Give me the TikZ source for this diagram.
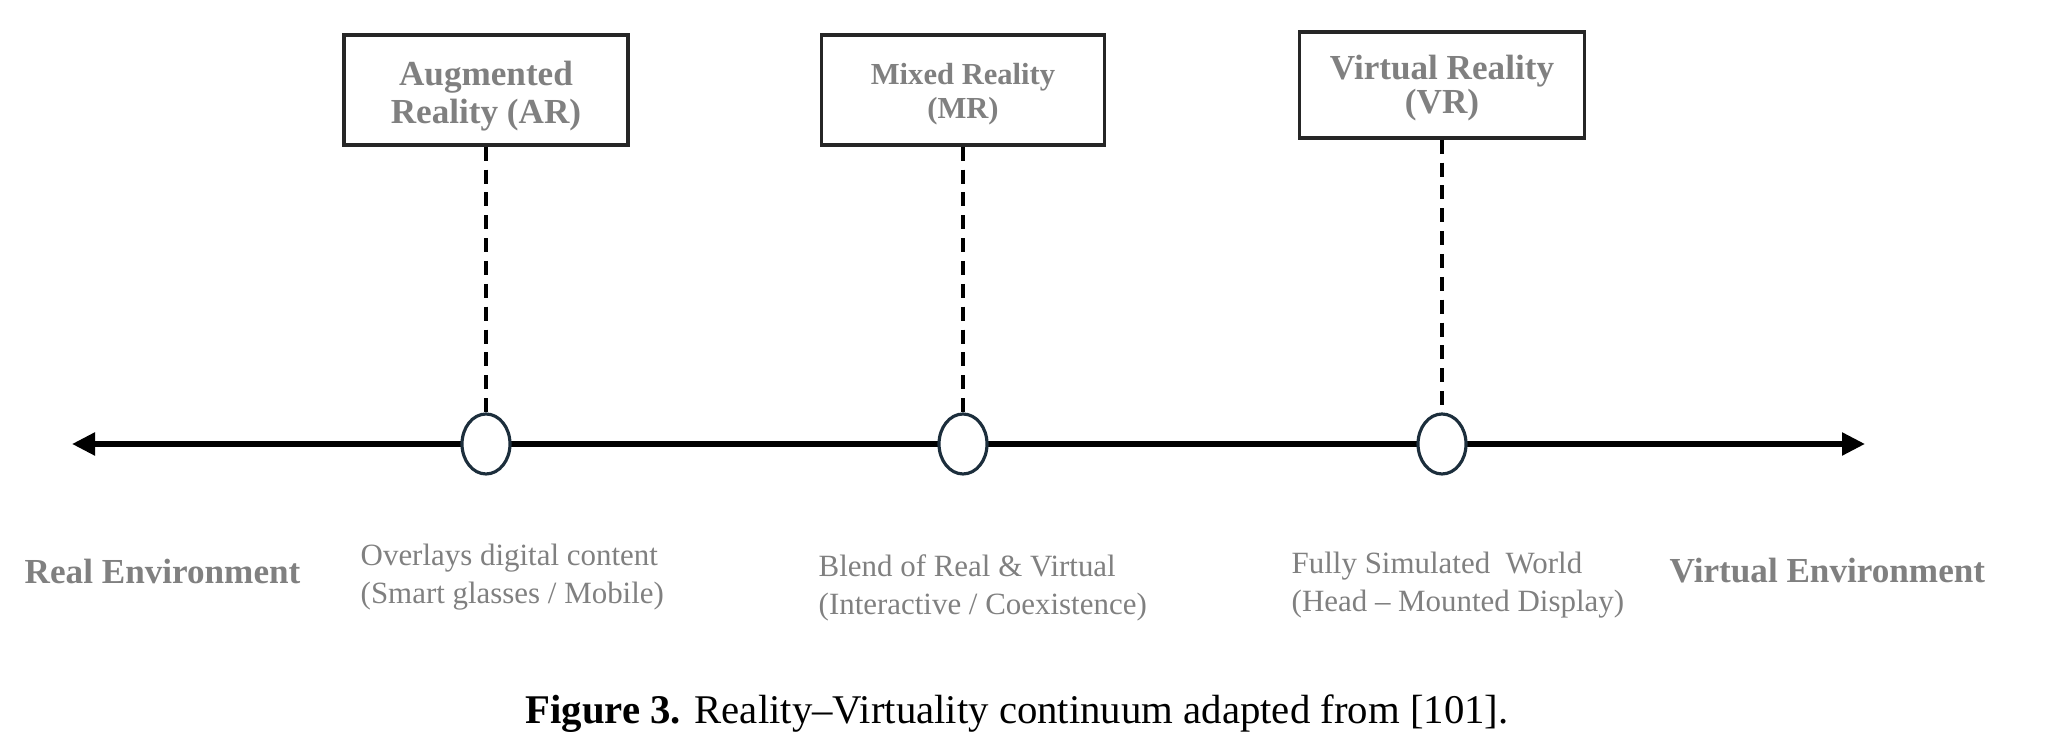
\documentclass[tikz,border=0pt]{standalone}
\usepackage{fontspec}
\setmainfont{Liberation Serif}
\usetikzlibrary{arrows.meta,positioning,shapes.geometric}
\definecolor{txtgray}{RGB}{128,128,128}
\definecolor{ringblue}{RGB}{28,46,60}
\tikzset{>={Triangle[length=2.3mm,width=2.2mm]}}
\tikzset{
  stagebox/.style={draw=black!85, line width=1pt, fill=white, inner sep=0pt},
  boxtext/.style={inner sep=0pt, align=center, text=txtgray,
    font=\bfseries\fontsize{10}{10.5}\selectfont},
  ring/.style={ellipse, draw=ringblue, line width=0.9pt, fill=white,
    minimum width=0.48cm, minimum height=0.6cm, inner sep=0pt},
  guide/.style={line width=0.9pt, dash pattern=on 4pt off 2.5pt},
  desc/.style={anchor=west, align=left, inner sep=0pt, text=txtgray,
    font=\fontsize{8.8}{11}\selectfont},
  envlabel/.style={anchor=west, inner sep=0pt, text=txtgray,
    font=\bfseries\fontsize{10}{12}\selectfont}
}

\begin{document}
\begin{tikzpicture}
\useasboundingbox (0,0) rectangle (20.56,7.51);

% Axis
\coordinate (lend) at (0.72,3.07);
\coordinate (rend) at (18.65,3.07);
\draw[line width=1.5pt,<->] (lend) -- (rend);

% Points on the axis
\node[ring] (arpt) at (4.86,3.07) {};
\node[ring] (mrpt) at (9.63,3.07) {};
\node[ring] (vrpt) at (14.42,3.07) {};

% Boxes
\node[stagebox, minimum width=2.84cm, minimum height=1.10cm] (ar) at (4.86,6.61) {};
\node[stagebox, minimum width=2.83cm, minimum height=1.10cm] (mr) at (9.63,6.61) {};
\node[stagebox, minimum width=2.85cm, minimum height=1.06cm] (vr) at (14.42,6.66) {};

\node[boxtext, font=\bfseries\fontsize{10}{11}\selectfont] (arlabel) at ([yshift=-0.06cm]ar.center) {Augmented\\Reality (AR)};
\node[boxtext, font=\bfseries\fontsize{8.7}{9.7}\selectfont] (mrlabel) at ([yshift=-0.04cm]mr.center) {Mixed Reality\\(MR)};
\node[boxtext, font=\bfseries\fontsize{10}{9.5}\selectfont] (vrlabel) at ([yshift=-0.03cm]vr.center) {Virtual Reality\\(VR)};

% Dashed lines
\draw[guide] (ar) -- (arpt);
\draw[guide] (mr) -- (mrpt);
\draw[guide] (vr) -- (vrpt);

% Ends of the continuum
\node[envlabel] (realenv) at (0.24,1.80) {Real Environment};
\node[envlabel] (virtenv) at (16.69,1.80) {Virtual Environment};

% Descriptions
\node[desc] (ardesc) at (3.60,1.74) {Overlays digital content\\(Smart glasses / Mobile)};
\node[desc] (mrdesc) at (8.18,1.63) {Blend of Real \& Virtual\\(Interactive / Coexistence)};
\node[desc] (vrdesc) at (12.91,1.66) {Fully Simulated\ \ World\\(Head -- Mounted Display)};

% Caption
\node (caption) at (10.17,0.37) {\fontsize{11.6}{14}\selectfont\textbf{Figure 3.} Reality--Virtuality continuum adapted from [101].};

\end{tikzpicture}
\end{document}
